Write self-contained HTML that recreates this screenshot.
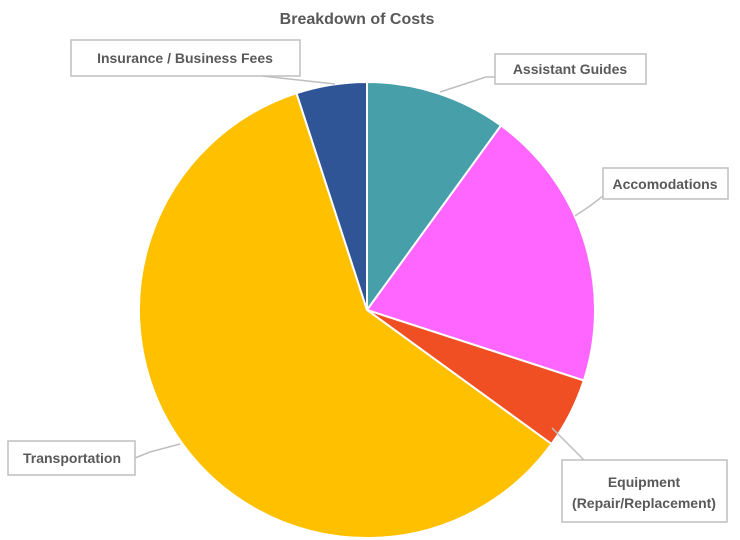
<!DOCTYPE html>
<html><head><style>
html,body{margin:0;padding:0;background:#fff;}
svg{display:block;font-family:"Liberation Sans",Arial,sans-serif;}
</style></head><body>
<svg width="740" height="540" viewBox="0 0 740 540" xmlns="http://www.w3.org/2000/svg">
<text x="357" y="24" text-anchor="middle" font-size="16" font-weight="bold" fill="#595959">Breakdown of Costs</text>
<g stroke="#fff" stroke-width="2">
<path d="M367,310 L367,82 A228,228 0 0 1 501,125.5 Z" fill="#479FAA"/>
<path d="M367,310 L501,125.5 A228,228 0 0 1 583.8,380.5 Z" fill="#FF66FF"/>
<path d="M367,310 L583.8,380.5 A228,228 0 0 1 551.5,444 Z" fill="#F04E23"/>
<path d="M367,310 L551.5,444 A228,228 0 1 1 296.5,93.2 Z" fill="#FFC000"/>
<path d="M367,310 L296.5,93.2 A228,228 0 0 1 367,82 Z" fill="#2F5597"/>
</g>
<g stroke="#BFBFBF" stroke-width="1.5" fill="none">
<polyline points="262,76 335,84"/>
<polyline points="495,77 486,77 440,92"/>
<polyline points="603,196 590,206 575,216"/>
<polyline points="135,458 150,452 180,444"/>
<polyline points="585,461 572,448 552,428"/>
</g>
<g fill="#fff" stroke="#BFBFBF" stroke-width="1.5">
<rect x="71" y="40" width="229" height="36"/>
<rect x="495" y="54" width="151" height="30"/>
<rect x="603" y="168" width="125" height="31"/>
<rect x="8" y="441" width="127" height="34"/>
<rect x="562" y="460" width="165" height="62"/>
</g>
<g font-size="14" font-weight="bold" fill="#595959" text-anchor="middle">
<text x="185" y="63">Insurance / Business Fees</text>
<text x="570" y="74">Assistant Guides</text>
<text x="665" y="189">Accomodations</text>
<text x="72" y="463">Transportation</text>
<text x="644" y="487">Equipment</text>
<text x="644" y="508">(Repair/Replacement)</text>
</g>
</svg>
</body></html>
